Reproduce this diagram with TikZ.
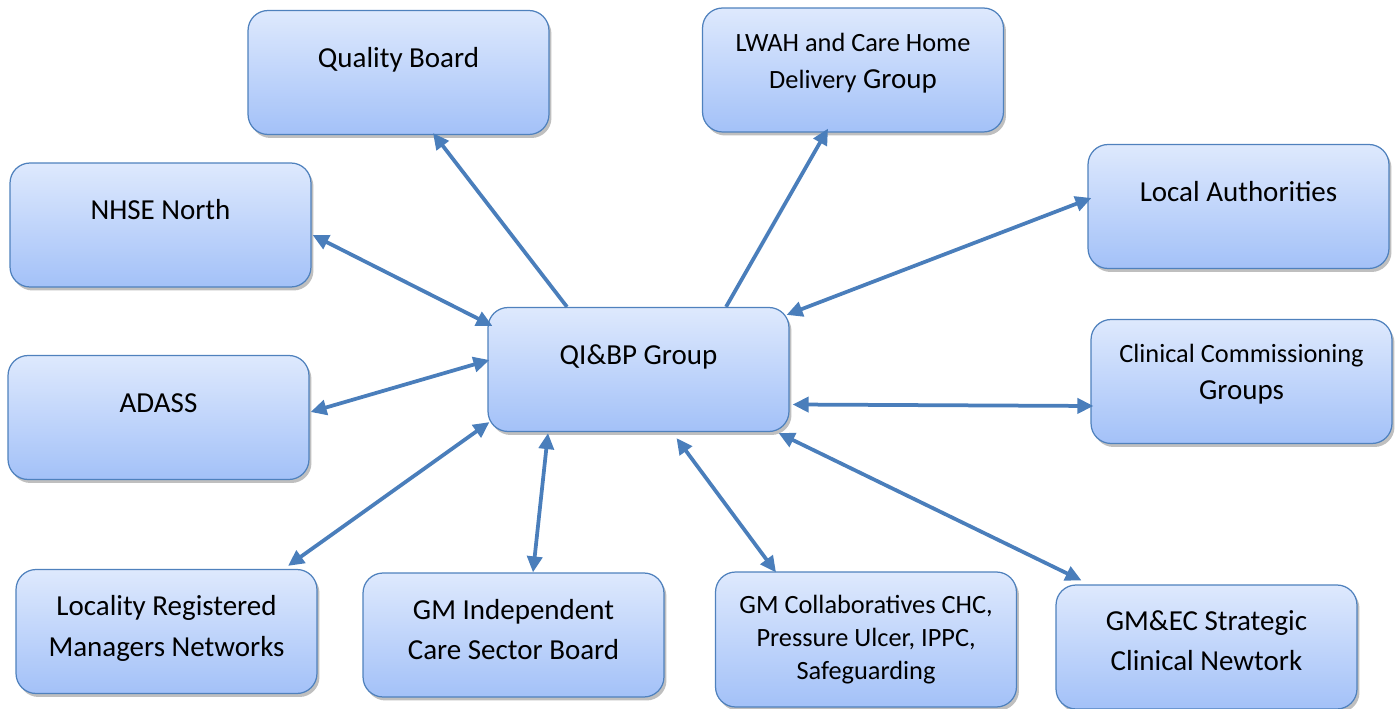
\documentclass[tikz,border=0pt]{standalone}
\usepackage{fontspec}
\setmainfont{Carlito}
\usetikzlibrary{arrows.meta,shadows}
\definecolor{boxtop}{RGB}{222,233,253}
\definecolor{boxbot}{RGB}{163,193,248}
\definecolor{boxedge}{RGB}{79,129,189}
\definecolor{linkblue}{RGB}{74,126,187}
\newcommand{\sm}{\fontsize{15}{19}\selectfont}
\tikzset{
  grp/.style={draw=boxedge,line width=0.7pt,rounded corners=0.4cm,top color=boxtop,bottom color=boxbot,
    minimum width=6.02cm,minimum height=2.48cm,align=center,font=\fontsize{16.5}{23}\selectfont,
    drop shadow={shadow xshift=0.05cm,shadow yshift=-0.07cm,opacity=0.25,fill=black}},
  oneline/.style={text height=0.4cm,text depth=0.6cm},
  link/.style={draw=linkblue,line width=0.075cm},
  >={Triangle[length=0.32cm,width=0.3cm]}
}

\begin{document}
\begin{tikzpicture}[x=0.02cm,y=-0.02cm]
  \useasboundingbox (0,0) rectangle (1400,709);

  % hub
  \node[grp,oneline] (qi) at (638.5,369.5) {QI\&BP Group};

  % top row
  \node[grp,oneline] (qb) at (398.5,72.5) {Quality Board};
  \node[grp,text depth=0.37cm] (lwah) at (853,70) {{\sm LWAH and Care Home}\\[-2pt]{\sm Delivery} Group};

  % left side
  \node[grp,oneline] (nhse) at (160.5,225) {NHSE North};
  \node[grp,oneline] (adass) at (158.5,417.5) {ADASS};

  % right side
  \node[grp,oneline] (la) at (1238.5,206.5) {Local Authorities};
  \node[grp,text depth=0.37cm] (ccg) at (1241.5,381.5) {{\sm Clinical Commissioning}\\[-2pt]Groups};

  % bottom row
  \node[grp,text depth=0.23cm] (lrm) at (166.5,631.5) {Locality Registered\\Managers Networks};
  \node[grp,text depth=0.22cm] (gmi) at (513.5,635) {GM Independent\\Care Sector Board};
  \node[grp,font=\sm,minimum height=2.7cm] (gmc) at (866,639.5) {GM Collaboratives CHC,\\Pressure Ulcer, IPPC,\\Safeguarding};
  \node[grp,text depth=0.26cm] (gmec) at (1206.5,647) {GM\&EC Strategic\\Clinical Newtork};

  % links out of the hub
  \draw[link,->] ([shift={(-71.5,0)}]qi.north) -- ([shift={(34.5,-2)}]qb.south);
  \draw[link,->] ([shift={(87.5,0)}]qi.north) -- ([shift={(-25,-4)}]lwah.south);
  \draw[link,<->] ([shift={(1,10)}]nhse.east) -- ([shift={(5,19)}]qi.north west);
  \draw[link,<->] ([shift={(4,-8.5)}]la.west) -- ([shift={(-3,8)}]qi.north east);
  \draw[link,<->] ([shift={(1,-5.5)}]adass.east) -- ([shift={(2,-9.5)}]qi.west);
  \draw[link,<->] ([shift={(3,35)}]qi.east) -- ([shift={(3,24.5)}]ccg.west);
  \draw[link,<->] ([shift={(121.5,-3)}]lrm.north) -- ([shift={(2,-10)}]qi.south west);
  \draw[link,<->] ([shift={(-90.5,1)}]qi.south) -- ([shift={(19.5,0)}]gmi.north);
  \draw[link,<->] ([shift={(38,6)}]qi.south) -- ([shift={(-90,1)}]gmc.north);
  \draw[link,<->] ([shift={(-11,1)}]qi.south east) -- ([shift={(26,-4)}]gmec.north west);
\end{tikzpicture}
\end{document}
